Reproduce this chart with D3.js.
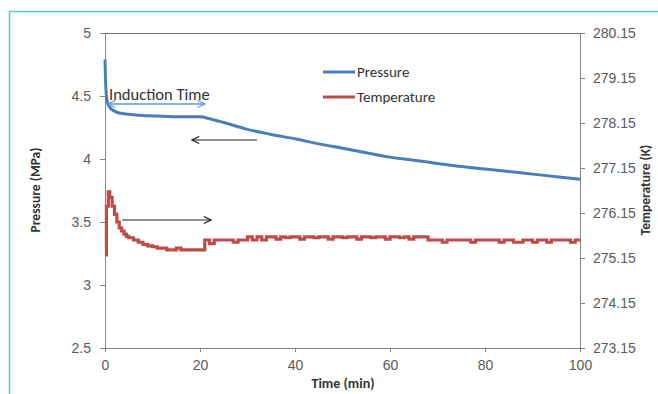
<!DOCTYPE html>
<html>
<head>
<meta charset="utf-8">
<script src="https://cdn.jsdelivr.net/npm/d3@7"></script>
<style>
  body { margin: 0; background: #fff; }
  svg { display: block; font-family: Calibri, Carlito, "Liberation Sans", Arial, sans-serif; }
</style>
</head>
<body>
<div id="chart"></div>
<script>
// pressure (MPa) vs time (min)
const pressureTime = [0, 0.2, 0.5, 1, 2, 3, 5, 8, 12, 16, 20, 22, 25, 30, 35, 40, 45, 50, 55, 60, 65, 70, 75, 80, 85, 90, 95, 100];
const pressureValue = [4.79, 4.55, 4.45, 4.41, 4.38, 4.365, 4.355, 4.345, 4.34, 4.335, 4.335, 4.32, 4.29, 4.235, 4.195, 4.16, 4.12, 4.085, 4.05, 4.015, 3.99, 3.965, 3.94, 3.92, 3.90, 3.88, 3.86, 3.84];

// temperature (K): start spike read every half minute, then one reading per minute
const tempTime = [0, 0.3, 0.7, 1, 1.5, 2, 2.5, 3, 3.5, 4, 4.5, 5, 6, 7, 8, 9, 10, 11, 12, 13, 14, 15, 16, 17, 18, 19, 20,
  21, 22, 23, 24, 25, 26, 27, 28, 29, 30, 31, 32, 33, 34, 35, 36, 37, 38, 39, 40,
  41, 42, 43, 44, 45, 46, 47, 48, 49, 50, 51, 52, 53, 54, 55, 56, 57, 58, 59, 60,
  61, 62, 63, 64, 65, 66, 67, 68, 69, 70, 71, 72, 73, 74, 75, 76, 77, 78, 79, 80,
  81, 82, 83, 84, 85, 86, 87, 88, 89, 90, 91, 92, 93, 94, 95, 96, 97, 98, 99, 100];
const tempValue = [275.22, 276.3, 276.62, 276.5, 276.3, 276.12, 275.95, 275.82, 275.75, 275.68, 275.63, 275.6, 275.55, 275.5, 275.45, 275.42, 275.4, 275.37, 275.37, 275.33, 275.33, 275.37, 275.33, 275.33, 275.33, 275.33, 275.33,
  275.55, 275.47, 275.55, 275.55, 275.55, 275.55, 275.5, 275.55, 275.55, 275.62, 275.55, 275.62, 275.55, 275.62, 275.62, 275.57, 275.62, 275.6, 275.62, 275.62,
  275.57, 275.62, 275.62, 275.6, 275.62, 275.62, 275.57, 275.62, 275.62, 275.6, 275.62, 275.62, 275.57, 275.62, 275.62, 275.6, 275.62, 275.62, 275.57, 275.62,
  275.62, 275.6, 275.62, 275.57, 275.62, 275.62, 275.62, 275.55, 275.55, 275.55, 275.5, 275.55, 275.55, 275.55, 275.55, 275.55, 275.5, 275.55, 275.55, 275.55,
  275.55, 275.55, 275.5, 275.55, 275.55, 275.5, 275.5, 275.55, 275.55, 275.5, 275.55, 275.55, 275.5, 275.55, 275.55, 275.55, 275.55, 275.5, 275.55, 275.55];

const xTicks = [0, 20, 40, 60, 80, 100];
const pTicks = [2.5, 3, 3.5, 4, 4.5, 5];
const tTicks = [273.15, 274.15, 275.15, 276.15, 277.15, 278.15, 279.15, 280.15];

const W = 658, H = 394;
const m = { left: 105, right: 580, top: 33, bottom: 348 };

const svg = d3.select('#chart').append('svg')
  .attr('width', W)
  .attr('height', H);

// outer frame
svg.append('path')
  .attr('d', `M9.5,${H} L9.5,11.5 L${W},11.5`)
  .attr('fill', 'none')
  .attr('stroke', '#4fd3c0')
  .attr('stroke-width', 1.5);

const x = d3.scaleLinear().domain([0, 100]).range([m.left, m.right]);
const yP = d3.scaleLinear().domain([2.5, 5]).range([m.bottom, m.top]);
const yT = d3.scaleLinear().domain([273.15, 280.15]).range([m.bottom, m.top]);

const axisColor = '#868686';
const labelColor = '#595959';

// plot area top border
svg.append('line')
  .attr('x1', m.left).attr('x2', m.right)
  .attr('y1', m.top + 0.5).attr('y2', m.top + 0.5)
  .attr('stroke', '#6f6f6f');

function styleAxis(g) {
  g.selectAll('.domain').attr('stroke', axisColor);
  g.selectAll('.tick line').attr('stroke', axisColor);
  g.selectAll('.tick text').attr('fill', labelColor).attr('font-size', 14);
}

svg.append('g')
  .attr('transform', `translate(0,${m.bottom})`)
  .call(d3.axisBottom(x).tickValues(xTicks).tickSize(4).tickSizeOuter(0).tickPadding(8))
  .call(styleAxis);

svg.append('g')
  .attr('transform', `translate(${m.left},0)`)
  .call(d3.axisLeft(yP).tickValues(pTicks).tickFormat(d3.format('')).tickSize(5).tickSizeOuter(0).tickPadding(9))
  .call(styleAxis);

svg.append('g')
  .attr('transform', `translate(${m.right},0)`)
  .call(d3.axisRight(yT).tickValues(tTicks).tickFormat(d3.format('.2f')).tickSize(5).tickSizeOuter(0).tickPadding(8))
  .call(styleAxis);

// axis titles
svg.append('text')
  .attr('x', 343).attr('y', 388)
  .attr('text-anchor', 'middle')
  .attr('font-size', 14).attr('font-weight', 'bold').attr('fill', '#333')
  .text('Time (min)');

svg.append('text')
  .attr('transform', 'translate(40,190) rotate(-90)')
  .attr('text-anchor', 'middle')
  .attr('font-size', 13.5).attr('font-weight', 'bold').attr('fill', '#333')
  .text('Pressure (MPa)');

svg.append('text')
  .attr('transform', 'translate(650,190) rotate(-90)')
  .attr('text-anchor', 'middle')
  .attr('font-size', 13.5).attr('font-weight', 'bold').attr('fill', '#333')
  .text('Temperature (K)');

// series
const pressure = pressureTime.map((t, i) => ({ t, v: pressureValue[i] }));
const temperature = tempTime.map((t, i) => ({ t, v: tempValue[i] }));

svg.append('path')
  .datum(temperature)
  .attr('fill', 'none')
  .attr('stroke', '#be4b48')
  .attr('stroke-width', 3.2)
  .attr('d', d3.line().x(d => x(d.t)).y(d => yT(d.v)).curve(d3.curveStepAfter));

svg.append('path')
  .datum(pressure)
  .attr('fill', 'none')
  .attr('stroke', '#4a7ebb')
  .attr('stroke-width', 3)
  .attr('d', d3.line().x(d => x(d.t)).y(d => yP(d.v)).curve(d3.curveMonotoneX));

// arrow markers
const defs = svg.append('defs');
function marker(id, color) {
  defs.append('marker')
    .attr('id', id)
    .attr('viewBox', '0 0 10 10')
    .attr('refX', 9).attr('refY', 5)
    .attr('markerWidth', 9).attr('markerHeight', 9)
    .attr('markerUnits', 'userSpaceOnUse')
    .attr('orient', 'auto-start-reverse')
    .append('path')
    .attr('d', 'M1,1 L9,5 L1,9')
    .attr('fill', 'none')
    .attr('stroke', color)
    .attr('stroke-width', 1.3);
}
marker('arrBlack', '#222');
marker('arrBlue', '#5b9bd5');

// induction time annotation
svg.append('line')
  .attr('x1', x(0.6)).attr('x2', x(21))
  .attr('y1', 104).attr('y2', 104)
  .attr('stroke', '#5b9bd5').attr('stroke-width', 1.3)
  .attr('marker-start', 'url(#arrBlue)')
  .attr('marker-end', 'url(#arrBlue)');

svg.append('text')
  .attr('x', 109).attr('y', 100)
  .attr('font-size', 16.5).attr('fill', '#333')
  .text('Induction Time');

// axis pointers
svg.append('line')
  .attr('x1', 257).attr('x2', 192)
  .attr('y1', 140).attr('y2', 140)
  .attr('stroke', '#222').attr('stroke-width', 1.2)
  .attr('marker-end', 'url(#arrBlack)');

svg.append('line')
  .attr('x1', 122).attr('x2', 211)
  .attr('y1', 220).attr('y2', 220)
  .attr('stroke', '#222').attr('stroke-width', 1.2)
  .attr('marker-end', 'url(#arrBlack)');

// legend
const legend = [
  { name: 'Pressure', color: '#4a7ebb', y: 72 },
  { name: 'Temperature', color: '#be4b48', y: 97 }
];
const lg = svg.append('g');
lg.selectAll('line').data(legend).enter().append('line')
  .attr('x1', 323).attr('x2', 355)
  .attr('y1', d => d.y).attr('y2', d => d.y)
  .attr('stroke', d => d.color).attr('stroke-width', 3);
lg.selectAll('text').data(legend).enter().append('text')
  .attr('x', 357).attr('y', d => d.y + 5)
  .attr('font-size', 15).attr('fill', '#333')
  .text(d => d.name);
</script>
</body>
</html>
